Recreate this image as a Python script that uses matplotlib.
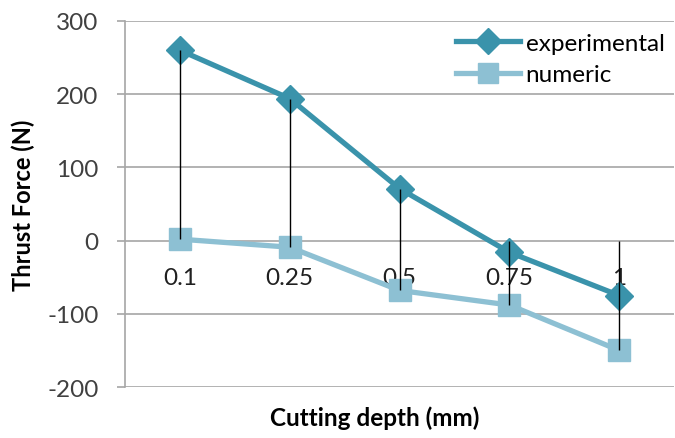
import matplotlib.pyplot as plt
from matplotlib.lines import Line2D

# Chart data
depths = ["0.1", "0.25", "0.5", "0.75", "1"]
experimental = [260, 194, 71, -16, -75]
numeric = [2, -9, -68, -88, -150]
# vertical black bars (top, bottom) as drawn in the original
bar_top = [260, 194, 71, 0, 0]
bar_bottom = [2, -9, -68, -88, -150]

c_exp = "#3A93AB"
c_num = "#8DC0D3"
font = "Lato"

plt.rcParams['font.family'] = [font, 'DejaVu Sans']
plt.rcParams['axes.unicode_minus'] = False

fig = plt.figure(figsize=(6.75, 4.39), dpi=100)
ax = fig.add_axes([0.185, 0.116, 0.814, 0.834])

x = list(range(len(depths)))

# gridlines
for v in range(-200, 301, 100):
    ax.axhline(v, color="#A6A6A6", lw=1.2, zorder=0)

ax.plot(x, experimental, color=c_exp, lw=3.8, marker="D", markersize=14, label="experimental", zorder=3)
ax.plot(x, numeric, color=c_num, lw=3.8, marker="s", markersize=16, label="numeric", zorder=2)
ax.vlines(x, bar_bottom, bar_top, color="black", lw=1.0, zorder=4)

ax.set_xlim(-0.5, 4.5)
ax.set_ylim(-200, 300)
ax.set_yticks(range(-200, 301, 100))
ax.tick_params(axis="y", labelsize=17.5, labelcolor="#404040", color="#A6A6A6", length=6, width=1.2, pad=13)

ax.spines["top"].set_visible(False)
ax.spines["right"].set_visible(False)
ax.spines["left"].set_color("#A6A6A6")
ax.spines["left"].set_linewidth(1.2)
ax.spines["bottom"].set_position(("data", 0))
ax.spines["bottom"].set_visible(False)

ax.set_xticks(x)
ax.set_xticklabels(depths)
ax.tick_params(axis="x", length=0, labelsize=17.5, labelcolor="#202020", pad=19)

ax.set_ylabel("Thrust Force (N)", fontsize=17, fontweight="bold", labelpad=9)
fig.text(0.555, 0.047, "Cutting depth (mm)", fontsize=17.5, fontweight="bold", ha="center", va="center")

handles = [
    Line2D([], [], color=c_exp, lw=3.8, marker="D", markersize=13),
    Line2D([], [], color=c_num, lw=3.8, marker="s", markersize=14),
]
ax.legend(handles, ["experimental", "numeric"], loc="upper right", bbox_to_anchor=(1.0, 0.995),
          frameon=False, fontsize=17.5, handlelength=2.6, handletextpad=0.25, labelspacing=0.45,
          borderaxespad=0.0)

fig.savefig("out.png", dpi=100)
